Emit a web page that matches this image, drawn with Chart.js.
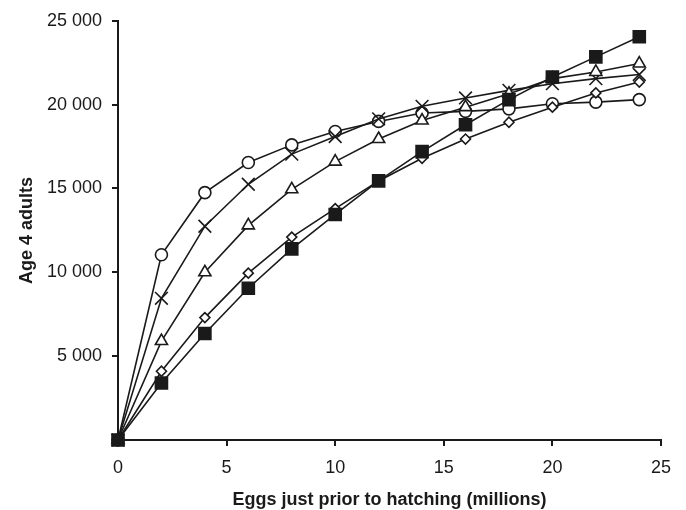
<!DOCTYPE html>
<html>
<head>
<meta charset="utf-8">
<script src="https://cdn.jsdelivr.net/npm/chart.js@4/dist/chart.umd.min.js"></script>
<style>
  html, body { margin: 0; padding: 0; background: #fff; }
  #wrap { width: 686px; height: 510px; }
</style>
</head>
<body>
<div id="wrap"><canvas id="eggsChart" width="686" height="510"></canvas></div>
<script>
// eggs just prior to hatching (millions)
const eggs = [0, 2, 4, 6, 8, 10, 12, 14, 16, 18, 20, 22, 24];

// age 4 adults, one array per curve
const squares   = [0, 3400, 6350, 9050, 11400, 13450, 15450, 17200, 18800, 20300, 21650, 22850, 24050];
const diamonds  = [0, 4100, 7300, 9950, 12100, 13800, 15450, 16800, 17950, 18950, 19850, 20700, 21350];
const triangles = [0, 5900, 10000, 12800, 14950, 16600, 17950, 19050, 19850, 20650, 21550, 21950, 22450];
const crosses   = [0, 8450, 12750, 15250, 17050, 18100, 19150, 19900, 20400, 20850, 21250, 21550, 21800];
const circles   = [0, 11050, 14750, 16550, 17600, 18400, 19000, 19500, 19600, 19750, 20050, 20150, 20300];

const xTicks = [0, 5, 10, 15, 20, 25];
const yTicks = [0, 5000, 10000, 15000, 20000, 25000];

const INK = "#1a1a1a";
const FONT = "'Liberation Sans', Arial, Helvetica, sans-serif";

const toPoints = (vals) => vals.map((v, i) => ({ x: eggs[i], y: v }));

const series = (vals, style, radius, fill) => ({
  data: toPoints(vals),
  borderColor: INK,
  borderWidth: 1.6,
  pointStyle: style,
  pointRadius: radius,
  pointHoverRadius: radius,
  pointBackgroundColor: fill,
  pointBorderColor: INK,
  pointBorderWidth: 1.6,
  tension: 0,
  fill: false,
  clip: false
});

const ctx = document.getElementById("eggsChart").getContext("2d");

new Chart(ctx, {
  type: "line",
  data: {
    datasets: [
      series(squares, "rect", 8.5, INK),
      series(diamonds, "rectRot", 5, "#fff"),
      series(triangles, "triangle", 7, "#fff"),
      series(crosses, "crossRot", 9, "#fff"),
      series(circles, "circle", 6, "#fff")
    ]
  },
  options: {
    responsive: false,
    animation: false,
    layout: { padding: { left: 0, right: 25, top: 17, bottom: 0 } },
    plugins: {
      legend: { display: false },
      tooltip: { enabled: false }
    },
    scales: {
      x: {
        type: "linear",
        min: 0,
        max: 25,
        afterBuildTicks: (s) => { s.ticks = xTicks.map(v => ({ value: v })); },
        afterFit: (s) => { s.height = 70; },
        ticks: {
          color: INK,
          padding: 11,
          font: { family: FONT, size: 18 }
        },
        grid: { drawOnChartArea: false, drawTicks: true, tickLength: 6, color: INK, lineWidth: 2 },
        border: { display: true, color: INK, width: 2 },
        title: {
          display: true,
          text: "Eggs just prior to hatching (millions)",
          color: INK,
          padding: { top: 0, bottom: 1 },
          font: { family: FONT, size: 18, weight: "bold", lineHeight: 1.0 }
        }
      },
      y: {
        min: 0,
        max: 25000,
        afterBuildTicks: (s) => { s.ticks = yTicks.map(v => ({ value: v })); },
        afterFit: (s) => { s.width = 118; },
        ticks: {
          color: INK,
          padding: 10,
          font: { family: FONT, size: 18 },
          callback: (v) => v === 0 ? "" : String(v).replace(/\B(?=(\d{3})+(?!\d))/g, " ")
        },
        grid: { drawOnChartArea: false, drawTicks: true, tickLength: 6, color: INK, lineWidth: 2 },
        border: { display: true, color: INK, width: 2 },
        title: {
          display: true,
          text: "Age 4 adults",
          color: INK,
          padding: { top: 16, bottom: 0 },
          font: { family: FONT, size: 18, weight: "bold" }
        }
      }
    }
  }
});
</script>
</body>
</html>
